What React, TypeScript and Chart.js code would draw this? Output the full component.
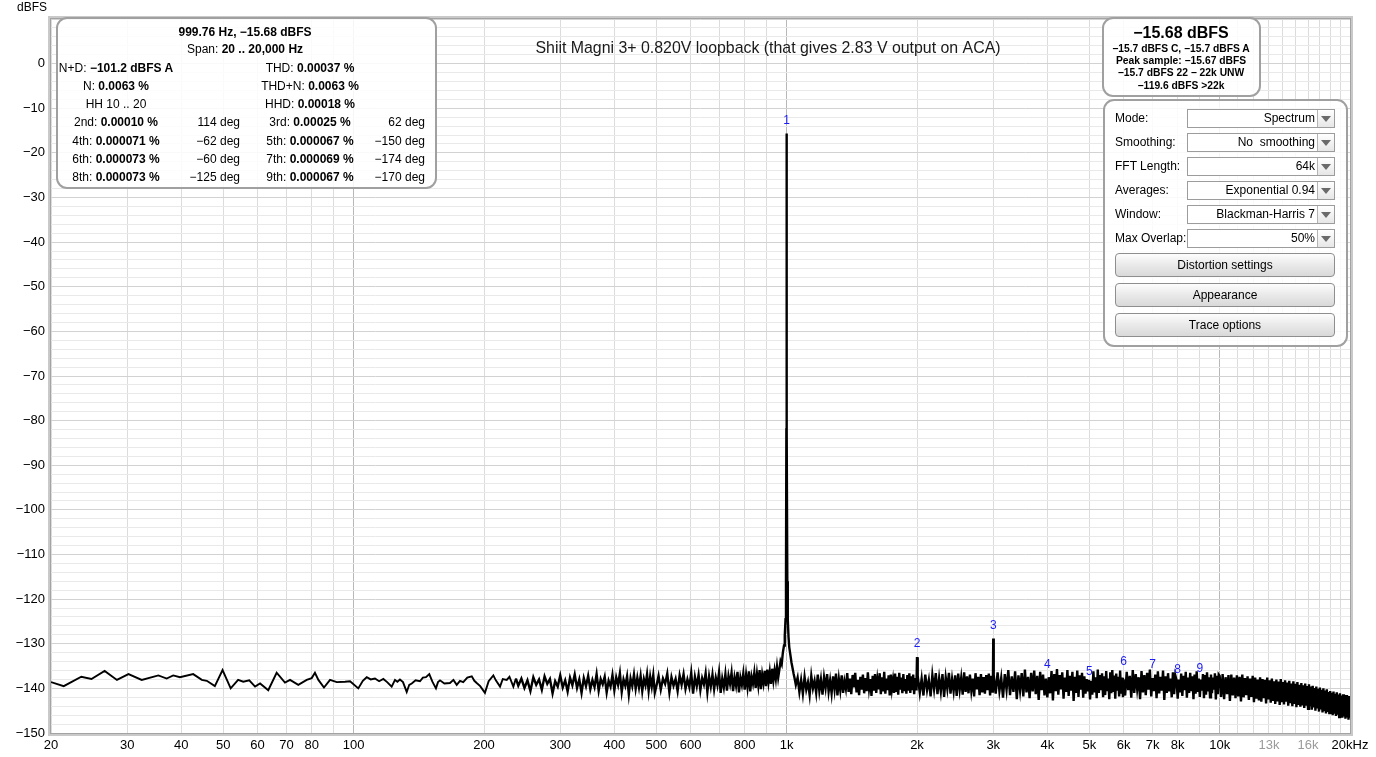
import React, { useEffect, useRef } from "react";
import { Chart, registerables } from "chart.js";

Chart.register(...registerables);

const FONT = '"Liberation Sans", Arial, sans-serif';

// ---------- spectrum trace (Hz, dBFS) ----------
// low-frequency part: individual readings
const freqLow = [20, 21.4, 23.5, 24.8, 26.6, 28.4, 30.2, 32.4, 35.4, 37.0, 38.3, 39.7, 42.6, 44.6, 45.8, 47.8, 49.8, 52.0, 54.1, 55.6, 57.4, 59.2, 60.8, 63.5, 66.4, 69.4, 71.3, 74.5, 77.9, 80.0, 81.4, 82.9, 85.4, 88.2, 91.4, 95.5, 98.1,
  102.5, 105, 107.2, 109.5, 112, 114.5, 117.1, 119.5, 122.4, 124.6, 126.2, 127.9, 130, 132.6, 134.4, 136.2, 139, 142.3, 144.5, 146.9, 149.5, 152, 154.9, 156.6, 158.3, 162, 166.9, 170, 173, 176, 179.1, 183, 187.4, 190, 192.4, 196, 201, 205, 210.2, 213, 217.8, 221, 225.7, 229, 233.8, 237];
const dbLow = [-138.6, -139.5, -137.4, -137.9, -136.1, -138.1, -136.8, -138.1, -137.1, -137.8, -137.1, -137.5, -136.8, -138.1, -138.3, -139.5, -135.9, -140.0, -138.1, -138.5, -138.2, -139.6, -138.9, -140.4, -136.5, -138.7, -138.1, -139.2, -138.1, -137.7, -136.5, -138.1, -139.8, -138.1, -138.6, -138.5, -138.4,
  -140.0, -138.3, -137.5, -138.0, -137.8, -138.4, -137.9, -138.6, -139.6, -138.1, -138.5, -138.0, -138.6, -140.8, -139.2, -138.9, -138.2, -138.4, -137.6, -137.5, -136.8, -138.5, -140.0, -138.6, -138.2, -138.9, -138.8, -138.1, -139.2, -138.3, -138.6, -137.6, -137.3, -138.3, -138.8, -139.5, -141.0, -138.4, -137.1, -138.2, -139.6, -137.9, -138.1, -137.4, -139.6, -137.8];

// dense FFT-bin regions: first bin (Hz), bin step (Hz), levels (dBFS)
const binsAStart = 240, binsAStep = 4;
const dbA = [-139.4, -137.8, -139.9, -138.2, -140.6, -137.5, -139.2, -138.0, -140.3, -137.3,
  -139.0, -137.9, -141.1, -138.4, -139.6, -137.1, -139.8, -138.2, -140.7, -137.6,
  -139.3, -136.9, -139.9, -138.0, -141.0, -137.7, -139.5, -137.2, -140.2, -138.1,
  -139.7, -136.8, -140.5, -137.9, -139.1, -137.4, -140.9, -138.3, -139.6, -137.0,
  -140.4, -137.5, -139.2, -136.6, -140.8, -138.0, -139.4, -137.3, -141.3, -137.8,
  -139.5, -136.9, -140.1, -137.6, -139.8, -137.2, -140.6, -137.9, -139.3, -136.8,
  -140.5, -137.4, -139.6, -137.0, -141.0];

const binsBStart = 500, binsBStep = 6;
const dbB = [-139.6, -137.2, -140.3, -137.8, -139.0, -136.7, -140.9, -137.5, -139.4, -137.9,
  -140.6, -137.1, -139.2, -136.8, -140.1, -138.0, -139.7, -136.5, -141.2, -137.4,
  -139.5, -137.0, -140.4, -137.7, -139.1, -136.6, -140.8, -137.3, -139.6, -136.9,
  -140.2, -137.6, -139.3, -136.4, -141.0, -137.8, -139.8, -136.8, -140.5, -137.2,
  -139.0, -136.5, -140.6, -137.5, -139.4, -136.3, -140.9, -137.6, -139.2, -136.7,
  -140.3, -137.0, -139.7, -136.2, -140.7, -137.4, -138.9, -136.5, -139.9, -136.8,
  -139.3, -135.9, -140.2, -136.9, -138.8, -136.1, -139.5, -135.8, -138.6, -136.3,
  -139.0, -135.6, -138.2, -136.0, -137.9, -135.2, -137.6];

// fundamental
const freqPeak = [962, 968, 974, 980, 986, 990, 994, 996.5, 998.5, 999.5, 999.76, 1000.1, 1001, 1003.5, 1006, 1010, 1014, 1020, 1026, 1032, 1038, 1044, 1050];
const dbPeak = [-135.8, -133.9, -134.6, -132.0, -130.4, -128.2, -124.5, -116, -82, -45, -15.68, -45, -82, -116, -124.5, -128.5, -130.8, -132.5, -134.2, -135.5, -136.8, -137.9, -139.2];

const binsCStart = 1060, binsCStep = 10;
const dbC = [-137.6, -140.8, -138.1, -141.2, -137.4, -140.3, -138.6, -141.5, -137.2, -140.0,
  -138.3, -141.0, -136.9, -140.6, -138.0, -141.4, -137.5, -139.9, -136.8, -140.7,
  -138.2, -141.1, -137.3, -140.2, -136.7, -141.6, -137.9, -140.4, -137.1, -141.0,
  -138.4, -140.1, -136.6, -140.8, -137.8, -141.3, -137.0, -139.8, -136.5, -140.9,
  -138.1, -141.5, -137.4, -140.3, -136.9, -141.1, -137.7, -140.6, -136.4, -140.0,
  -137.9, -141.7, -137.2, -140.5, -136.8, -141.0, -138.0, -140.2, -136.6, -141.3,
  -137.5, -140.7, -136.3, -141.2, -137.8, -140.4, -137.1, -141.6, -136.9, -140.1,
  -138.2, -141.0, -136.7, -140.8, -137.4, -141.4, -136.5, -140.3, -137.6, -141.1,
  -136.8, -140.6, -137.9, -141.2, -137.0, -140.5, -136.6, -141.0, -137.3, -140.4,
  -136.9, -141.3, -137.7, -140.2];

// 2nd harmonic
const freqH2 = [1995, 2000, 2005];
const dbH2 = [-138.6, -133.0, -138.9];

const binsDStart = 2010, binsDStep = 20;
const dbD = [-137.2, -141.0, -137.8, -141.6, -136.9, -140.4, -138.1, -141.8, -137.0, -140.2,
  -136.6, -141.3, -137.7, -140.7, -136.8, -141.9, -137.5, -140.1, -136.5, -141.2,
  -137.9, -140.6, -137.1, -141.7, -136.7, -140.3, -137.6, -141.4, -136.4, -140.8,
  -137.3, -141.1, -136.9, -140.5, -137.8, -141.8, -136.6, -140.2, -137.4, -141.5,
  -136.8, -140.9, -137.5, -141.2, -137.0, -140.4, -136.7, -141.6, -137.2, -140.7];

// 3rd harmonic
const freqH3 = [2995, 3000, 3005];
const dbH3 = [-138.2, -128.8, -138.6];

const binsEStart = 3010, binsEStep = 30;
const dbE = [-137.0, -141.2, -136.4, -140.6, -137.6, -142.1, -136.8, -140.3, -135.9, -141.5,
  -137.3, -140.8, -136.2, -142.4, -137.1, -140.5, -136.6, -141.8, -135.8, -140.9,
  -137.4, -142.2, -136.5, -140.7, -136.0, -141.3, -137.2, -142.6, -136.3, -140.4,
  -136.9, -141.6, -137.8, -142.0, -137.5, -141.1, -136.1, -142.7, -136.8, -140.6,
  -135.7, -141.4, -137.0, -140.2, -136.4, -142.3, -137.6, -140.8, -135.9, -141.7,
  -137.2, -140.5, -136.3, -142.8, -137.4, -141.0, -136.0, -141.9, -137.1, -140.3,
  -136.5, -142.1, -137.3, -141.2, -137.9, -140.7, -138.1, -142.5, -138.3, -141.4,
  -136.2, -140.9, -137.5, -142.2, -135.8, -141.0, -137.0, -140.4, -136.6, -142.0,
  -137.3, -141.5, -136.1, -140.6, -137.8, -142.4, -136.4, -141.1, -135.9, -140.8,
  -137.1, -142.3, -136.7, -140.5, -137.4, -141.8, -136.0, -141.2, -137.6, -142.0];

const binsFStart = 6000, binsFStep = 50;
const dbF = [-138.0, -141.6, -136.3, -140.4, -137.2, -142.1, -135.9, -141.0, -136.8, -140.2,
  -137.5, -142.4, -136.1, -140.9, -137.0, -141.5, -136.5, -140.3, -135.8, -141.8,
  -137.7, -140.6, -136.9, -142.2, -136.2, -141.1, -137.4, -140.5, -136.0, -142.6,
  -137.3, -141.0, -136.6, -140.7, -137.8, -142.0, -136.4, -141.3, -137.1, -138.1,
  -142.3, -138.0, -140.9, -136.7, -141.7, -137.2, -140.4, -136.3, -142.1, -137.6,
  -141.0, -136.5, -140.6, -137.3, -142.4, -136.9, -141.2, -136.2, -140.8, -137.8,
  -141.9, -138.0, -140.5, -136.8, -142.2, -137.0, -141.4, -136.4, -140.7, -137.5,
  -142.0, -136.9, -141.1, -137.6, -140.3, -136.6, -142.5, -137.2, -141.3, -136.9];

const binsGStart = 10000, binsGStep = 80;
const dbG = [-137.2, -141.9, -136.8, -142.4, -137.5, -141.3, -137.0, -142.8, -136.9, -141.6,
  -137.6, -142.2, -137.1, -141.8, -137.4, -142.9, -136.9, -142.0, -137.7, -141.5,
  -137.3, -142.6, -137.8, -141.9, -137.2, -143.1, -137.6, -142.3, -138.0, -142.7,
  -137.5, -143.0, -137.9, -142.2, -138.1, -143.4, -137.6, -142.5, -138.2, -143.2,
  -137.8, -142.8, -138.4, -143.5, -138.0, -142.9, -138.5, -143.7, -137.9, -143.1,
  -138.6, -143.6, -138.2, -143.0, -138.7, -143.9, -138.3, -143.3, -138.9, -144.0,
  -138.4, -143.5, -139.0, -144.2, -138.6, -143.7, -139.2, -144.1, -138.8, -143.8,
  -139.3, -144.4, -138.9, -143.9, -139.5, -144.6, -139.1, -144.0, -139.6, -144.8,
  -139.4, -144.3, -139.9, -145.0, -139.6, -144.5, -140.1, -145.2, -139.8, -144.7,
  -140.3, -145.4, -140.0, -145.1, -140.5, -145.6, -140.2, -145.3, -140.8, -145.8,
  -140.6, -145.5, -141.0, -146.0, -140.7, -145.7, -141.2, -146.2, -140.9, -145.9,
  -141.4, -146.4, -141.1, -146.1, -141.6, -146.6, -141.3, -146.3, -141.8, -146.8,
  -141.5, -146.5, -142.0, -147.0, -141.7, -146.6];

// ---------- harmonic markers ----------
const harmonicFreqs = [1000, 2000, 3000, 4000, 5000, 6000, 7000, 8000, 9000];
const harmonicLevels = [-15.68, -133.0, -128.8, -137.7, -139.1, -137.0, -137.5, -138.8, -138.6];
const harmonicLabels = ["1", "2", "3", "4", "5", "6", "7", "8", "9"];

// ---------- axes ----------
const xGridValues = [20, 30, 40, 50, 60, 70, 80, 90, 100, 200, 300, 400, 500, 600, 700, 800, 900, 1000, 2000, 3000, 4000, 5000, 6000, 7000, 8000, 9000, 10000, 11000, 12000, 13000, 14000, 15000, 16000, 17000, 18000, 19000, 20000];
const xMajorValues = [100, 1000, 10000];
const xLabelValues = [20, 30, 40, 50, 60, 70, 80, 100, 200, 300, 400, 500, 600, 800, 1000, 2000, 3000, 4000, 5000, 6000, 7000, 8000, 10000, 13000, 16000, 20000];
const xLabelTexts = ["20", "30", "40", "50", "60", "70", "80", "100", "200", "300", "400", "500", "600", "800", "1k", "2k", "3k", "4k", "5k", "6k", "7k", "8k", "10k", "13k", "16k", "20kHz"];
const xGreyLabels = [13000, 16000];
const yLabelValues = [0, -10, -20, -30, -40, -50, -60, -70, -80, -90, -100, -110, -120, -130, -140, -150];

const TITLE = "Shiit Magni 3+ 0.820V loopback (that gives 2.83 V output on ACA)";

// ---------- readouts ----------
const headLines = [["", "999.76 Hz, \u221215.68 dBFS"], ["Span: ", "20 .. 20,000 Hz"]];
const measLeft = [["N+D: ", "\u2212101.2 dBFS A"], ["N: ", "0.0063 %"], ["HH 10 .. 20", ""], ["2nd: ", "0.00010 %"], ["4th: ", "0.000071 %"], ["6th: ", "0.000073 %"], ["8th: ", "0.000073 %"]];
const phaseLeft = ["", "", "", "114 deg", "\u221262 deg", "\u221260 deg", "\u2212125 deg"];
const measRight = [["THD: ", "0.00037 %"], ["THD+N: ", "0.0063 %"], ["HHD: ", "0.00018 %"], ["3rd: ", "0.00025 %"], ["5th: ", "0.000067 %"], ["7th: ", "0.000069 %"], ["9th: ", "0.000067 %"]];
const phaseRight = ["", "", "", "62 deg", "\u2212150 deg", "\u2212174 deg", "\u2212170 deg"];

const levelBig = "\u221215.68 dBFS";
const levelLines = ["\u221215.7 dBFS C, \u221215.7 dBFS A", "Peak sample: \u221215.67 dBFS", "\u221215.7 dBFS 22 \u2212 22k UNW", "\u2212119.6 dBFS >22k"];

const panelLabels = ["Mode:", "Smoothing:", "FFT Length:", "Averages:", "Window:", "Max Overlap:"];
const panelValues = ["Spectrum", "No  smoothing", "64k", "Exponential 0.94", "Blackman-Harris 7", "50%"];
const panelButtons = ["Distortion settings", "Appearance", "Trace options"];

function pairs(fs: number[], ds: number[]) {
  const n = Math.min(fs.length, ds.length);
  const out: { x: number; y: number }[] = [];
  for (let i = 0; i < n; i++) out.push({ x: fs[i], y: ds[i] });
  return out;
}
function bins(start: number, step: number, ds: number[]) {
  return ds.map((d, i) => ({ x: start + i * step, y: d }));
}

function buildPoints() {
  return [
    ...pairs(freqLow, dbLow),
    ...bins(binsAStart, binsAStep, dbA),
    ...bins(binsBStart, binsBStep, dbB),
    ...pairs(freqPeak, dbPeak),
    ...bins(binsCStart, binsCStep, dbC),
    ...pairs(freqH2, dbH2),
    ...bins(binsDStart, binsDStep, dbD),
    ...pairs(freqH3, dbH3),
    ...bins(binsEStart, binsEStep, dbE),
    ...bins(binsFStart, binsFStep, dbF),
    ...bins(binsGStart, binsGStep, dbG),
  ];
}

const extrasPlugin = {
  id: "extras",
  afterDraw(chart: any) {
    const { ctx, chartArea, scales } = chart;
    const { left, top, right, bottom } = chartArea;
    ctx.save();
    ctx.strokeStyle = "#c9c9c9";
    ctx.lineWidth = 3;
    ctx.strokeRect(left - 1.5, top - 1.5, right - left + 3, bottom - top + 3);
    ctx.strokeStyle = "#a3a3a3";
    ctx.lineWidth = 1;
    ctx.strokeRect(left - 0.5, top - 0.5, right - left + 1, bottom - top + 1);
    ctx.fillStyle = "#000";
    ctx.font = `12px ${FONT}`;
    ctx.textAlign = "center";
    ctx.textBaseline = "middle";
    ctx.fillText("dBFS", 32, 8);
    ctx.fillStyle = "#1a1a1a";
    ctx.font = `15.9px ${FONT}`;
    ctx.fillText(TITLE, 768, 49);
    ctx.fillStyle = "#1c1cf5";
    ctx.font = `12px ${FONT}`;
    ctx.textBaseline = "bottom";
    harmonicFreqs.forEach((f, i) => {
      const x = scales.x.getPixelForValue(f);
      const y = scales.y.getPixelForValue(harmonicLevels[i]) - 7;
      ctx.fillText(harmonicLabels[i], x, y);
    });
    ctx.restore();
  },
};

const boxStyle: React.CSSProperties = {
  position: "absolute",
  boxSizing: "border-box",
  border: "2.5px solid #a0a0a0",
  borderRadius: 11,
  background: "rgba(255,255,255,0.86)",
};

function T({ x, y, align = "center", size = 12, bold = false, children, color = "#000" }: any) {
  const w = 400;
  const style: React.CSSProperties = {
    position: "absolute",
    top: y - 8,
    lineHeight: "16px",
    height: 16,
    fontSize: size,
    fontWeight: bold ? "bold" : "normal",
    whiteSpace: "pre",
    color,
  };
  if (align === "center") {
    style.left = x - w / 2;
    style.width = w;
    style.textAlign = "center";
  } else if (align === "right") {
    style.left = x - w;
    style.width = w;
    style.textAlign = "right";
  } else {
    style.left = x;
  }
  return <div style={style}>{children}</div>;
}

function LV({ pair }: { pair: string[] }) {
  return (
    <>
      {pair[0]}
      <b>{pair[1]}</b>
    </>
  );
}

function Dropdown({ y, value }: { y: number; value: string }) {
  return (
    <div style={{ position: "absolute", left: 1187, top: y - 9.5, width: 148, height: 19, border: "1px solid #9c9c9c", background: "#fff", boxSizing: "border-box" }}>
      <div style={{ position: "absolute", right: 19, top: 0, lineHeight: "17px", fontSize: 12, whiteSpace: "pre" }}>{value}</div>
      <div style={{ position: "absolute", right: 0, top: 0, width: 17, height: 17, borderLeft: "1px solid #b4b4b4", background: "linear-gradient(#ffffff,#e6e6e6)", boxSizing: "border-box" }}>
        <div style={{ position: "absolute", left: 3, top: 6, width: 0, height: 0, borderLeft: "5px solid transparent", borderRight: "5px solid transparent", borderTop: "6px solid #6a6a6a" }} />
      </div>
    </div>
  );
}

export default function App() {
  const ref = useRef<HTMLCanvasElement>(null);

  useEffect(() => {
    const canvas = ref.current;
    if (!canvas) return;
    const lowCount = freqLow.length;
    const chart = new Chart(canvas, {
      type: "line",
      data: {
        datasets: [
          {
            data: buildPoints(),
            borderColor: "#000",
            borderWidth: 1.9,
            pointRadius: 0,
            tension: 0,
            fill: false,
            segment: {
              borderWidth: (c: any) => (c.p0DataIndex >= lowCount - 1 ? 2.4 : 1.9),
            },
          },
        ],
      },
      options: {
        animation: false,
        responsive: false,
        devicePixelRatio: 1,
        parsing: false,
        layout: { padding: { top: 19, right: 26, left: 0, bottom: 0 } },
        plugins: { legend: { display: false }, tooltip: { enabled: false }, title: { display: false } },
        scales: {
          x: {
            type: "logarithmic",
            min: 20,
            max: 20000,
            afterBuildTicks: (s: any) => {
              s.ticks = xGridValues.map((v) => ({ value: v }));
            },
            afterFit: (s: any) => {
              s.height = 24;
              s.paddingLeft = 0;
              s.paddingRight = 0;
            },
            border: { display: false },
            grid: {
              drawTicks: false,
              lineWidth: 1,
              color: (c: any) => (c.tick && xMajorValues.includes(c.tick.value) ? "#b8b8b8" : "#dcdcdc"),
            },
            ticks: {
              autoSkip: false,
              maxRotation: 0,
              minRotation: 0,
              padding: 5,
              font: { family: FONT, size: 13 },
              color: (c: any) => (c.tick && xGreyLabels.includes(c.tick.value) ? "#9a9a9a" : "#000"),
              callback: (v: any) => {
                const i = xLabelValues.indexOf(Number(v));
                return i >= 0 ? xLabelTexts[i] : "";
              },
            },
          },
          y: {
            type: "linear",
            min: -150,
            max: 10,
            afterFit: (s: any) => {
              s.width = 51;
              s.paddingTop = 0;
              s.paddingBottom = 0;
            },
            border: { display: false },
            grid: {
              drawTicks: false,
              lineWidth: 1,
              color: (c: any) => (c.tick && c.tick.value % 10 === 0 ? "#d2d2d2" : "#e9e9e9"),
            },
            ticks: {
              stepSize: 2,
              autoSkip: false,
              padding: 6,
              font: { family: FONT, size: 13 },
              color: "#000",
              callback: (v: any) => {
                const n = Number(v);
                if (!yLabelValues.includes(n)) return "";
                return n === 0 ? "0" : "\u2212" + Math.abs(n);
              },
            },
          },
        },
      } as any,
      plugins: [extrasPlugin],
    });
    return () => chart.destroy();
  }, []);

  const rowsY = [68, 86, 104, 122, 141, 159, 177];
  const levelY = [49, 61, 73, 86];
  const panelY = [118, 142, 166, 190, 214, 238];
  const buttonY = [265, 295, 325];

  return (
    <div style={{ position: "fixed", left: 0, top: 0, width: 1376, height: 757, background: "#fff", fontFamily: FONT, overflow: "hidden" }}>
      <canvas ref={ref} width={1376} height={757} style={{ position: "absolute", left: 0, top: 0, width: 1376, height: 757 }} />

      <div style={{ ...boxStyle, left: 56, top: 17, width: 381, height: 172 }} />
      <T x={245} y={32} bold>{headLines[0][1]}</T>
      <T x={245} y={49}><LV pair={headLines[1]} /></T>
      {measLeft.map((p, i) => (
        <T key={"ml" + i} x={116} y={rowsY[i]}><LV pair={p} /></T>
      ))}
      {phaseLeft.map((p, i) => (
        <T key={"pl" + i} x={240} y={rowsY[i]} align="right">{p}</T>
      ))}
      {measRight.map((p, i) => (
        <T key={"mr" + i} x={310} y={rowsY[i]}><LV pair={p} /></T>
      ))}
      {phaseRight.map((p, i) => (
        <T key={"pr" + i} x={425} y={rowsY[i]} align="right">{p}</T>
      ))}

      <div style={{ ...boxStyle, left: 1102, top: 17, width: 159, height: 80 }} />
      <T x={1181} y={33} size={16} bold>{levelBig}</T>
      {levelLines.map((l, i) => (
        <T key={"lv" + i} x={1181} y={levelY[i]} size={10.3} bold>{l}</T>
      ))}

      <div style={{ ...boxStyle, left: 1103, top: 99, width: 245, height: 248 }} />
      {panelLabels.map((l, i) => (
        <T key={"pl2" + i} x={1115} y={panelY[i]} align="left">{l}</T>
      ))}
      {panelValues.map((v, i) => (
        <Dropdown key={"dd" + i} y={panelY[i]} value={v} />
      ))}
      {panelButtons.map((b, i) => (
        <div key={"bt" + i} style={{ position: "absolute", left: 1115, top: buttonY[i] - 12, width: 220, height: 24, boxSizing: "border-box", border: "1px solid #8e8e8e", borderRadius: 4, background: "linear-gradient(#fdfdfd,#e9e9e9 50%,#d9d9d9)", textAlign: "center", lineHeight: "22px", fontSize: 12 }}>{b}</div>
      ))}
    </div>
  );
}
